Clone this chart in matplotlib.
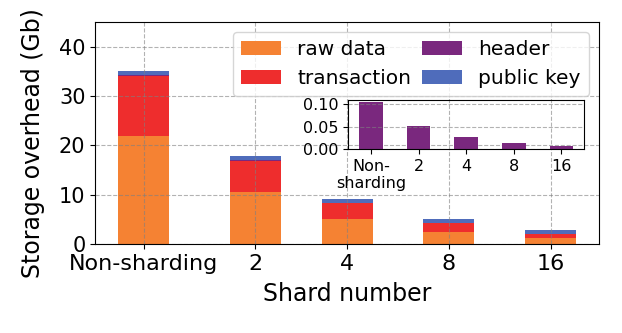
import matplotlib
matplotlib.use('Agg')
import matplotlib.pyplot as plt
import numpy as np

# 数据
shards = ["Non-sharding", "2", "4", "8", "16"]
inset_labels = ["Non-\nsharding", "2", "4", "8", "16"]
x_pos = [0, 1.1, 2, 3, 4]
raw_data = [21.8, 10.5, 5.1, 2.55, 1.25]
transaction = [12.3, 6.4, 3.25, 1.7, 0.85]
header = [0.104, 0.052, 0.026, 0.013, 0.0065]
public_key = [0.85, 0.8, 0.8, 0.75, 0.75]

c_raw = "#F58233"
c_tx = "#EE2D2D"
c_hd = "#7A287E"
c_pk = "#4F6CBB"

fig = plt.figure(figsize=(6.22, 3.33), dpi=100)
ax = fig.add_axes([0.153, 0.267, 0.81, 0.667])

w = 0.5
raw = np.array(raw_data)
tx = np.array(transaction)
hd = np.array(header)
pk = np.array(public_key)
ax.bar(x_pos, raw, w, color=c_raw, label="raw data")
ax.bar(x_pos, tx, w, bottom=raw, color=c_tx, label="transaction")
ax.bar(x_pos, hd, w, bottom=raw + tx, color=c_hd, label="header")
ax.bar(x_pos, pk, w, bottom=raw + tx + hd, color=c_pk, label="public key")

ax.set_ylim(0, 45)
ax.set_xticks(x_pos)
ax.set_xticklabels(shards, fontsize=16)
ax.tick_params(axis='y', labelsize=15)
ax.set_xlabel("Shard number", fontsize=17, labelpad=6)
ax.set_ylabel("Storage overhead (Gb)", fontsize=17)
ax.yaxis.set_label_coords(-0.1, 0.453)
ax.grid(True, linestyle='--', color='gray', alpha=0.6)
ax.legend(loc='upper right', ncol=2, fontsize=14.5, handlelength=2.0,
          columnspacing=0.55, handletextpad=0.8, borderaxespad=0.5)

# 子图：header
axin = fig.add_axes([0.56, 0.552, 0.379, 0.148])
axin.patch.set_alpha(0)
axin.bar(range(len(header)), header, w, color=c_hd)
axin.set_xticks(range(len(header)))
axin.set_xticklabels(inset_labels, fontsize=11.5)
axin.set_yticks([0.0, 0.05, 0.10])
axin.tick_params(axis='y', labelsize=11.5)
axin.grid(True, axis='y', linestyle='--', color='gray', alpha=0.6)

plt.savefig("out.png", dpi=100)
plt.close()
